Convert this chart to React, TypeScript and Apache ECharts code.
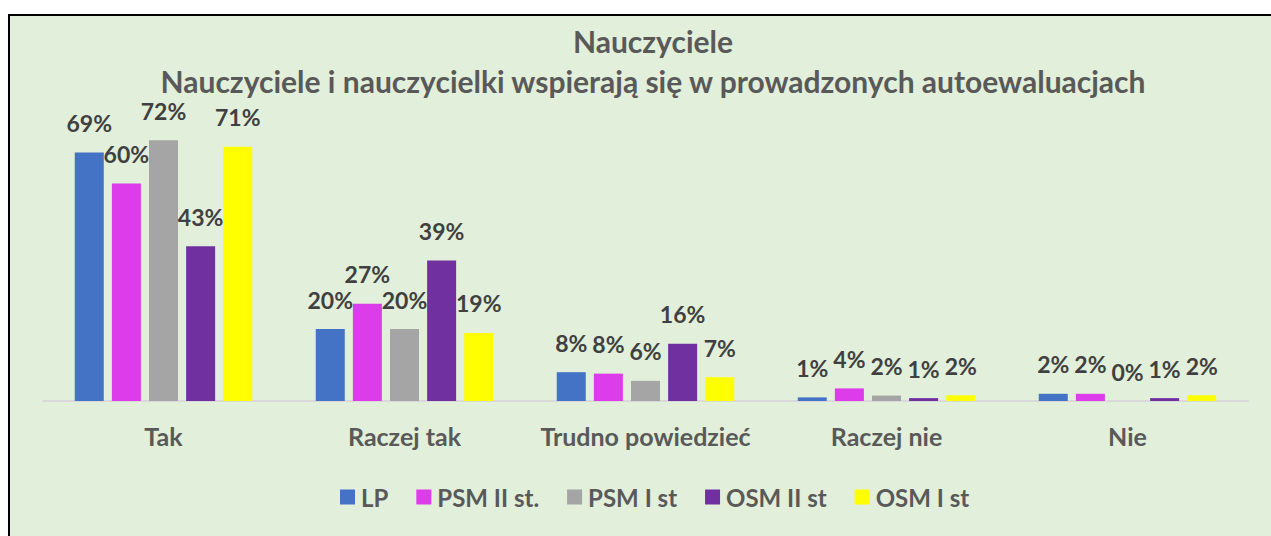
import React, { useEffect, useRef } from "react";
import * as echarts from "echarts";

const categories = ["Tak", "Raczej tak", "Trudno powiedzieć", "Raczej nie", "Nie"];
const seriesNames = ["LP", "PSM II st.", "PSM I st", "OSM II st", "OSM I st"];
const lpValues = [69, 20, 8, 1, 2];
const psm2Values = [60.4, 27, 7.6, 3.5, 2];
const psm1Values = [72.4, 20, 5.6, 1.5, 0];
const osm2Values = [43, 39, 15.9, 0.8, 0.8];
const osm1Values = [70.6, 18.9, 6.6, 1.6, 1.6];
const seriesColors = ["#4472C4", "#DD3CEB", "#A5A5A5", "#7030A0", "#FFFF00"];
const titleLines = [
  "Nauczyciele",
  "Nauczyciele i nauczycielki wspierają się w prowadzonych autoewaluacjach",
];

const FONT = "Lato, 'Liberation Sans', sans-serif";

export default function App() {
  const ref = useRef<HTMLDivElement>(null);
  useEffect(() => {
    if (!ref.current) return;
    const chart = echarts.init(ref.current, null, { renderer: "svg" });
    const allValues = [lpValues, psm2Values, psm1Values, osm2Values, osm1Values];
    chart.setOption({
      animation: false,
      backgroundColor: "#ffffff",
      graphic: [
        {
          type: "rect",
          z: -10,
          silent: true,
          shape: { x: 9, y: 15, width: 1300, height: 600 },
          style: { fill: "#E2EFDA", stroke: "#000000", lineWidth: 2 },
        },
        ...titleLines.map((t, i) => ({
          type: "text",
          x: 653,
          y: 41 + i * 40,
          style: {
            text: t,
            fill: "#595959",
            font: `bold 30px ${FONT}`,
            align: "center",
            verticalAlign: "middle",
          },
        })),
      ],
      grid: { left: 43, right: 23, top: 113, bottom: 135 },
      legend: {
        left: 340,
        top: 485,
        padding: 0,
        itemWidth: 15,
        itemHeight: 15,
        itemGap: 28,
        icon: "rect",
        textStyle: { color: "#595959", fontSize: 24, fontWeight: "bold", fontFamily: FONT, padding: [0, 0, 0, 1] },
        data: seriesNames,
      },
      xAxis: {
        type: "category",
        data: categories,
        axisLine: { lineStyle: { color: "#D9D9D9", width: 2 } },
        axisTick: { show: false },
        axisLabel: { interval: 0, color: "#595959", fontSize: 25, fontWeight: "bold", fontFamily: FONT, margin: 22 },
      },
      yAxis: {
        type: "value",
        min: 0,
        max: 80,
        show: false,
        splitLine: { show: false },
      },
      series: seriesNames.map((name, i) => ({
        name,
        type: "bar",
        data: allValues[i],
        barWidth: 29,
        barGap: "28%",
        itemStyle: { color: seriesColors[i] },
        label: {
          show: true,
          position: "top",
          distance: 18,
          formatter: (p: any) => Math.round(p.value) + "%",
          color: "#404040",
          fontSize: 23,
          fontWeight: "bold",
          fontFamily: FONT,
        },
      })),
    });
    return () => chart.dispose();
  }, []);
  return (
    <div style={{ position: "fixed", left: 0, top: 0, width: 1271, height: 536, background: "#fff" }}>
      <div ref={ref} style={{ width: 1271, height: 536 }} />
    </div>
  );
}
